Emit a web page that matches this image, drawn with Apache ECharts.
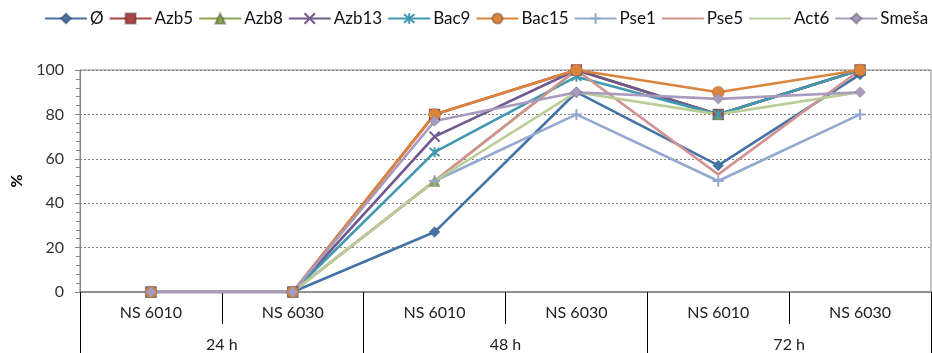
<!DOCTYPE html>
<html>
<head>
<meta charset="utf-8">
<script src="https://cdn.jsdelivr.net/npm/echarts@6/dist/echarts.min.js"></script>
<style>
  html, body { margin: 0; padding: 0; background: #fff; }
  #chart { width: 932px; height: 353px; }
</style>
</head>
<body>
<div id="chart"></div>
<script>
// kategorije
const uzorci = ['NS 6010', 'NS 6030', 'NS 6010', 'NS 6030', 'NS 6010', 'NS 6030'];
const vreme = ['24 h', '48 h', '72 h'];

// vrednosti (%)
const nazivi = ['Ø', 'Azb5', 'Azb8', 'Azb13', 'Bac9', 'Bac15', 'Pse1', 'Pse5', 'Act6', 'Smeša'];
const v_o     = [0, 0, 27, 90, 57, 98];
const v_azb5  = [0, 0, 80, 100, 80, 100];
const v_azb8  = [0, 0, 50, 100, 80, 100];
const v_azb13 = [0, 0, 70, 100, 80, 100];
const v_bac9  = [0, 0, 63, 97, 80, 100];
const v_bac15 = [0, 0, 80, 100, 90, 100];
const v_pse1  = [0, 0, 50, 80, 50, 80];
const v_pse5  = [0, 0, 50, 100, 53, 100];
const v_act6  = [0, 0, 50, 90, 80, 90];
const v_smesa = [0, 0, 77, 90, 87, 90];
const yTicks = [0, 20, 40, 60, 80, 100];

const boje = ['#4572A7', '#AA4643', '#89A54E', '#71588F', '#4198AF', '#DB843D', '#93A9CF', '#D19392', '#B9CD96', '#A99BBD'];

// markeri
const krst = 'path://M0,0L10,10M10,0L0,10';
const zvezda = 'path://M0,0L10,10M10,0L0,10M5,-1L5,11';
const plus = 'path://M5,0L5,10M0,5L10,5';
const simboli = ['diamond', 'rect', 'triangle', krst, zvezda, 'circle', plus, 'circle', 'circle', 'diamond'];
const velicine = [11, 11, 11, 10, 10, 12, 11, 0, 0, 11];
const bezMarkera = ['Pse5', 'Act6'];
const podaci = [v_o, v_azb5, v_azb8, v_azb13, v_bac9, v_bac15, v_pse1, v_pse5, v_act6, v_smesa];

const font = 'Lato, "Open Sans", Arial, sans-serif';

const serije = nazivi.map((ime, i) => {
  const linijski = simboli[i].startsWith('path://');
  const skriven = bezMarkera.includes(ime);
  let stil;
  if (skriven) stil = { color: 'rgba(0,0,0,0)', borderWidth: 0 };
  else if (linijski) stil = { color: boje[i], borderColor: boje[i], borderWidth: 2 };
  else stil = { color: boje[i], borderColor: 'rgba(0,0,0,0.25)', borderWidth: 0.5 };
  return {
    name: ime,
    type: 'line',
    data: podaci[i],
    symbol: simboli[i],
    symbolSize: velicine[i],
    showSymbol: !skriven,
    lineStyle: { color: boje[i], width: 2.6 },
    itemStyle: stil,
    emphasis: { disabled: true },
    animation: false
  };
});

const chart = echarts.init(document.getElementById('chart'));
chart.setOption({
  backgroundColor: '#fff',
  legend: {
    top: 10,
    left: 44,
    width: 888,
    padding: 0,
    itemWidth: 42,
    itemHeight: 13,
    itemGap: 5,
    textStyle: { fontFamily: font, fontSize: 17, color: '#111', padding: [0, 0, 0, -2] },
    data: nazivi
  },
  grid: {
    left: 80, right: 1, top: 70, bottom: 61,
    show: true, borderColor: '#868686', borderWidth: 1
  },
  xAxis: [
    {
      type: 'category',
      data: uzorci,
      position: 'bottom',
      boundaryGap: true,
      axisLine: { lineStyle: { color: '#868686', width: 1.5 } },
      axisTick: { show: true, interval: 0, length: 32, lineStyle: { color: '#000' } },
      axisLabel: { interval: 0, margin: 13, fontFamily: font, fontSize: 16, color: '#222' }
    },
    {
      type: 'category',
      data: vreme,
      position: 'bottom',
      boundaryGap: true,
      axisLine: { show: false },
      axisTick: { show: true, interval: 0, length: 62, lineStyle: { color: '#000' } },
      axisLabel: { interval: 0, margin: 45, fontFamily: font, fontSize: 16, color: '#222' }
    }
  ],
  yAxis: {
    type: 'value',
    min: yTicks[0],
    max: yTicks[yTicks.length - 1],
    interval: 20,
    name: '%',
    nameLocation: 'middle',
    nameGap: 54,
    nameRotate: 90,
    nameTextStyle: { fontFamily: font, fontSize: 16, fontWeight: 'bold', color: '#000' },
    axisLine: { show: true, lineStyle: { color: '#868686' } },
    axisTick: { show: true, length: 5, lineStyle: { color: '#868686' } },
    minorTick: { show: true, splitNumber: 5, length: 4, lineStyle: { color: '#868686' } },
    axisLabel: { margin: 16, fontFamily: font, fontSize: 16, color: '#333' },
    splitLine: { lineStyle: { color: '#808080', type: [2, 2], width: 1 } }
  },
  series: serije
});
</script>
</body>
</html>
